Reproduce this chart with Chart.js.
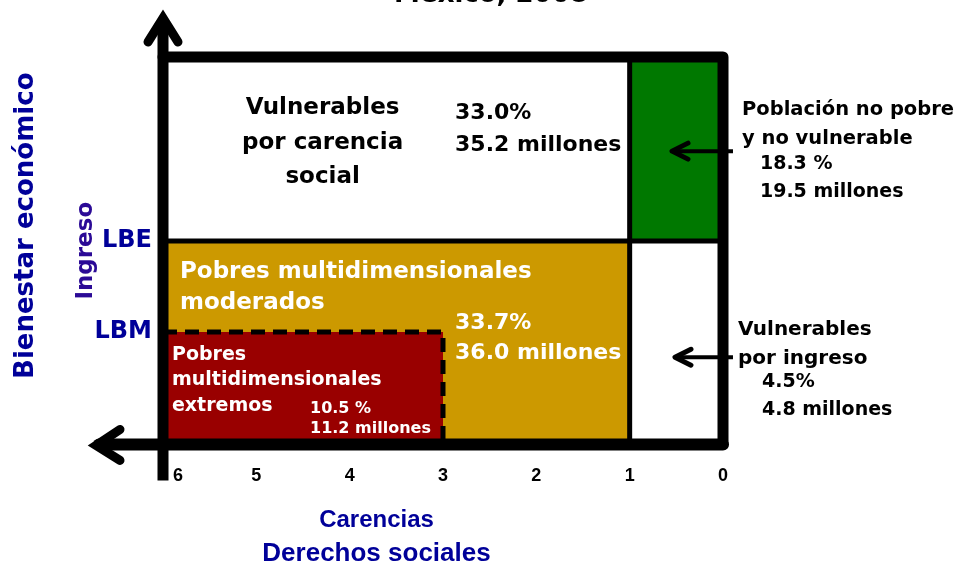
<!DOCTYPE html>
<html>
<head>
<meta charset="utf-8">
<script src="https://cdn.jsdelivr.net/npm/chart.js@4.4.0/dist/chart.umd.min.js"></script>
<style>
  html, body { margin: 0; padding: 0; background: #fff; }
  #wrap { width: 977px; height: 569px; }
</style>
</head>
<body>
<div id="wrap"><canvas id="diagram" width="977" height="569"></canvas></div>
<script>
// --- Carencias sociales (eje x, de 6 a 0)
const carenciasTicks = [6, 5, 4, 3, 2, 1, 0];

// --- Ingreso (eje y, unidades relativas)
const ingresoMax = 100;
const lbm = 29;     // linea de bienestar minimo
const lbe = 52.5;   // linea de bienestar economico
const ingresoLines = [lbm, lbe];
const ingresoLabels = ['LBM', 'LBE'];

// --- Regiones del cuadrante
const regionNames = [
  'Vulnerables\npor carencia\nsocial',
  'Población no pobre\ny no vulnerable',
  'Pobres multidimensionales\nmoderados',
  'Vulnerables\npor ingreso',
  'Pobres\nmultidimensionales\nextremos',
];
const regionPct = [33.0, 18.3, 33.7, 4.5, 10.5];
const regionMillones = [35.2, 19.5, 36.0, 4.8, 11.2];
const carenciasDesde = [1, 0, 1, 0, 3];
const carenciasHasta = [6, 1, 6, 1, 6];
const ingresoDesde = [lbe, lbe, 0, 0, 0];
const ingresoHasta = [ingresoMax, ingresoMax, lbe, lbe, lbm];

// styles
const regionColors = ['rgba(0,0,0,0)', '#007800', '#cc9900', 'rgba(0,0,0,0)', '#990000'];
const regionOrder = [6, 6, 6, 6, 5];
const pctSep = ['', ' ', '', '', ' '];
const BLUE = '#000099';

function fmtPct(i) {
  return `${regionPct[i].toFixed(1)}${pctSep[i]}%`;
}

function fmtMill(i) {
  return `${regionMillones[i].toFixed(1)} millones`;
}

// where the text goes, in data units (carencias, ingreso)
const nameBlocks = [
  { x: 4.29, y: 86.8, step: 8.9, align: 'center', color: '#000', size: 23 },
  { x: -0.204, y: 86.3, step: 7.5, align: 'left', color: '#000', size: 19.5 },
  { x: 5.818, y: 44.4, step: 7.8, align: 'left', color: '#fff', size: 23 },
  { x: -0.161, y: 29.5, step: 7.3, align: 'left', color: '#000', size: 20 },
  { x: 5.904, y: 23.0, step: 6.5, align: 'left', color: '#fff', size: 19 },
];
const statBlocks = [
  { x: 2.871, y: 85.5, step: 8.3, color: '#000', size: 22 },
  { x: -0.396, y: 72.4, step: 7.3, color: '#000', size: 19 },
  { x: 2.871, y: 31.3, step: 7.8, color: '#fff', size: 22 },
  { x: -0.418, y: 16.0, step: 7.2, color: '#000', size: 19 },
  { x: 4.425, y: 9.3, step: 5.2, color: '#fff', size: 16 },
];
// arrows from the outside labels into their cells
const pointers = [
  { from: -0.107, to: 0.568, y: 75.7 },
  { from: -0.107, to: 0.536, y: 22.5 },
];

const regionDatasets = regionNames.map((name, i) => ({
  label: name.replace(/\n/g, ' '),
  data: [
    { x: carenciasHasta[i], y: ingresoHasta[i] },
    { x: carenciasDesde[i], y: ingresoHasta[i] },
  ],
  showLine: true,
  pointRadius: 0,
  borderWidth: 0,
  borderColor: 'rgba(0,0,0,0)',
  backgroundColor: regionColors[i],
  fill: { value: ingresoDesde[i] },
  order: regionOrder[i],
}));

function edge(points, width, extra) {
  return Object.assign({
    data: points,
    showLine: true,
    pointRadius: 0,
    borderColor: '#000',
    borderWidth: width,
    fill: false,
    clip: false,
    order: 1,
  }, extra || {});
}

const edgeDatasets = [
  // LBE divider
  edge([{ x: 6, y: lbe }, { x: 0, y: lbe }], 5, { label: 'LBE' }),
  // una carencia divider
  edge([{ x: carenciasDesde[0], y: 0 }, { x: carenciasDesde[0], y: ingresoMax }], 5, { label: '1 carencia' }),
  // extremos dashed outline
  edge([{ x: 6, y: lbm }, { x: carenciasDesde[4], y: lbm }, { x: carenciasDesde[4], y: 0 }], 5,
    { label: 'LBM', borderDash: [14, 8] }),
  // outer frame (top + right)
  edge([{ x: 6, y: ingresoMax }, { x: 0, y: ingresoMax }, { x: 0, y: 0 }], 11,
    { label: 'marco', borderJoinStyle: 'round', borderCapStyle: 'round', order: 0 }),
];

function drawChevron(ctx, tipX, tipY, ax, ay, bx, by) {
  ctx.beginPath();
  ctx.moveTo(ax, ay);
  ctx.lineTo(tipX, tipY);
  ctx.lineTo(bx, by);
  ctx.stroke();
}

const overlayPlugin = {
  id: 'overlay',
  afterDatasetsDraw(chart) {
    const { ctx, chartArea, scales: { x, y } } = chart;
    const left = x.getPixelForValue(6);
    const right = x.getPixelForValue(0);
    const bottom = y.getPixelForValue(0);
    const top = y.getPixelForValue(ingresoMax);
    ctx.save();
    ctx.strokeStyle = '#000';

    // axis arrows
    ctx.lineCap = 'butt';
    ctx.lineWidth = 11;
    ctx.beginPath();
    ctx.moveTo(left, bottom + 36);
    ctx.lineTo(left, top - 34);
    ctx.stroke();
    ctx.lineWidth = 12;
    ctx.lineCap = 'round';
    ctx.beginPath();
    ctx.moveTo(right, bottom);
    ctx.lineTo(left - 64, bottom);
    ctx.stroke();
    ctx.lineWidth = 9;
    ctx.lineJoin = 'miter';
    ctx.miterLimit = 10;
    drawChevron(ctx, left, top - 39, left - 15, top - 15, left + 15, top - 15);
    drawChevron(ctx, left - 67, bottom + 1, left - 43, bottom - 15, left - 43, bottom + 16);

    // pointer arrows
    pointers.forEach((p) => {
      const py = y.getPixelForValue(p.y);
      const x0 = x.getPixelForValue(p.from);
      const x1 = x.getPixelForValue(p.to);
      ctx.lineWidth = 4;
      ctx.lineCap = 'butt';
      ctx.beginPath();
      ctx.moveTo(x0, py);
      ctx.lineTo(x1 + 2, py);
      ctx.stroke();
      ctx.lineWidth = 5;
      ctx.lineCap = 'round';
      ctx.lineJoin = 'round';
      drawChevron(ctx, x1 + 2, py, x1 + 18, py - 8, x1 + 18, py + 8);
    });

    // texts
    ctx.textBaseline = 'middle';
    regionNames.forEach((name, i) => {
      const b = nameBlocks[i];
      ctx.font = `bold ${b.size}px "DejaVu Sans"`;
      ctx.fillStyle = b.color;
      ctx.textAlign = b.align;
      name.split('\n').forEach((line, k) => {
        ctx.fillText(line, x.getPixelForValue(b.x), y.getPixelForValue(b.y - k * b.step));
      });
      const s = statBlocks[i];
      ctx.font = `bold ${s.size}px "DejaVu Sans"`;
      ctx.fillStyle = s.color;
      ctx.textAlign = 'left';
      ctx.fillText(fmtPct(i), x.getPixelForValue(s.x), y.getPixelForValue(s.y));
      ctx.fillText(fmtMill(i), x.getPixelForValue(s.x), y.getPixelForValue(s.y - s.step));
    });

    // heading, cut by the top edge as in the source slide
    ctx.textAlign = 'center';
    ctx.fillStyle = '#000';
    ctx.font = 'bold 26px "DejaVu Sans"';
    ctx.fillText('México, 2008', 491, -5);

    // outer axis caption
    ctx.translate(26, (chartArea.top + chartArea.bottom) / 2 - 25);
    ctx.rotate(-Math.PI / 2);
    ctx.fillStyle = BLUE;
    ctx.fillText('Bienestar económico', 0, 0);
    ctx.restore();
  },
};

new Chart(document.getElementById('diagram'), {
  type: 'scatter',
  data: { datasets: regionDatasets.concat(edgeDatasets) },
  options: {
    responsive: false,
    animation: false,
    events: [],
    layout: { padding: { left: 30, right: 254, top: 57, bottom: 0 } },
    plugins: {
      legend: { display: false },
      tooltip: { enabled: false },
      subtitle: {
        display: true,
        position: 'bottom',
        text: 'Carencias',
        color: BLUE,
        font: { family: 'Liberation Sans', weight: 'bold', size: 24, lineHeight: 1.2 },
        padding: { top: 1.6, bottom: 0 },
      },
      title: {
        display: true,
        position: 'bottom',
        text: 'Derechos sociales',
        color: BLUE,
        font: { family: 'Liberation Sans', weight: 'bold', size: 26, lineHeight: 1.2 },
        padding: { top: 3, bottom: 0 },
      },
    },
    scales: {
      x: {
        type: 'linear',
        min: 0,
        max: 6,
        reverse: true,
        grid: { display: false, drawTicks: false },
        border: { display: false },
        afterBuildTicks(scale) {
          scale.ticks = carenciasTicks.map((v) => ({ value: v }));
        },
        ticks: {
          autoSkip: false,
          maxRotation: 0,
          padding: 21,
          color: '#000',
          font: { family: 'Liberation Sans', weight: 'bold', size: 18 },
          // the 6 sits just right of the axis shaft
          callback: (value) => (value === 6 ? '      6' : String(value)),
        },
        afterFit(scale) {
          scale.height = 60;
        },
      },
      y: {
        type: 'linear',
        min: 0,
        max: ingresoMax,
        grid: { display: false, drawTicks: false },
        border: { display: false },
        afterBuildTicks(scale) {
          scale.ticks = ingresoLines.map((v) => ({ value: v }));
        },
        ticks: {
          autoSkip: false,
          padding: 11,
          color: BLUE,
          font: { family: 'DejaVu Sans', weight: 'bold', size: 24 },
          callback: (value, index) => ingresoLabels[index],
        },
        title: {
          display: true,
          text: 'Ingreso',
          color: '#2b0a96',
          font: { family: 'DejaVu Sans', weight: 'bold', size: 23, lineHeight: 1.2 },
          padding: { top: 42, bottom: 0 },
        },
        afterFit(scale) {
          scale.width = 133;
        },
      },
    },
  },
  plugins: [overlayPlugin],
});
</script>
</body>
</html>
